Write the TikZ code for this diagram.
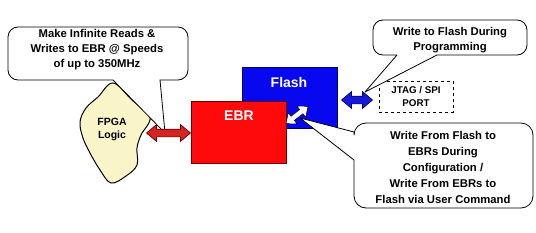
\documentclass[tikz,border=0pt]{standalone}
\usepackage{fontspec}
\setmainfont{Liberation Sans}
\usetikzlibrary{shapes.arrows,calc}
\definecolor{blobfill}{HTML}{FAF5C8}
\definecolor{ebrred}{HTML}{FF0A0A}
\definecolor{flashblue}{HTML}{0808F0}
\definecolor{arrred}{HTML}{D42424}
\definecolor{arrblue}{HTML}{1818D8}
\begin{document}
\begin{tikzpicture}[x=1pt,y=-1pt,
  lbl/.style={font=\bfseries\fontsize{11.3}{15}\selectfont, align=center, inner sep=0pt},
  boxlbl/.style={font=\bfseries\fontsize{14}{16}\selectfont, text=white, inner sep=0pt},
  callout/.style={draw=black, fill=white, line width=0.8pt, line join=round},
  fatarrow/.style={double arrow, draw, line width=0.7pt, inner xsep=0pt, inner ysep=3.5pt,
     text height=0pt, text depth=0pt, text width=0pt, double arrow head extend=4.5pt,
     double arrow tip angle=80},
  block/.style={draw, line width=0.9pt, inner sep=0pt, anchor=north west}
]
\useasboundingbox (0,0) rectangle (536,233);

% FPGA blob
\draw[fill=blobfill, line width=1pt] plot[smooth cycle, tension=0.6] coordinates
  {(113,83) (98,97) (86,108) (80,122) (83,138) (90,153) (100,170) (111,183)
   (126,176) (137,165) (137,148) (141,135) (150,117) (132,100)};
\node[lbl, font=\bfseries\fontsize{10.5}{13}\selectfont] (fpga) at (112,129) {FPGA\\Logic};

% left callout
\draw[callout] (113,80) -- (165,133) -- (160,80) [rounded corners=10pt] -- (188,80) -- (188,27)
   -- (8,27) -- (8,80) [sharp corners] -- cycle;
\node[lbl] (t1) at (97,50) {Make Infinite Reads \&\\Writes to EBR @ Speeds\\of up to 350MHz};

% Flash and EBR blocks
\node[block, fill=flashblue, draw=blue!40!black, minimum width=95pt, minimum height=61pt] (flash) at (242,67) {};
\node[boxlbl] (flashlbl) at (289,82) {Flash};
\node[block, fill=ebrred, draw=red!40!black, minimum width=95pt, minimum height=62pt] (ebr) at (191,101) {};
\node[boxlbl] (ebrlbl) at (239,116) {EBR};

% red arrow
\node[fatarrow, fill=arrred, draw=red!40!black, minimum height=44pt] (redarr) at (168.5,133) {};

% white arrow between EBR and Flash
\node[fatarrow, fill=white, draw=black, line width=0.5pt, inner ysep=2.4pt, double arrow head extend=4.5pt,
   minimum height=28pt, rotate=38] (whitearr) at (297,115) {};

% blue arrow
\node[fatarrow, fill=arrblue, draw=blue!40!black, minimum height=31pt] (bluearr) at (357,100) {};

% JTAG port
\node[draw, dashed, line width=0.6pt, minimum width=74pt, minimum height=31pt, inner sep=0pt] (jtag) at (416,96.5) {};
\node[lbl, font=\bfseries\fontsize{9.8}{13}\selectfont] (jtaglbl) at (416,96.5) {JTAG / SPI\\PORT};

% top right callout
\draw[callout] (397,55) -- (365,92) -- (437,55) [rounded corners=10pt] -- (527,55) -- (527,20)
   -- (373,20) -- (373,55) [sharp corners] -- cycle;
\node[lbl] (t2) at (450,40.5) {Write to Flash During\\Programming};

% bottom right callout
\draw[callout] (354,132) -- (300,118) -- (354,160) [rounded corners=12pt] -- (354,208) -- (533,208)
   -- (533,123) -- (354,123) [sharp corners] -- cycle;
\node[lbl, font=\bfseries\fontsize{11.3}{16}\selectfont] (t3) at (443,167)
  {Write From Flash to\\EBRs During\\Configuration /\\Write From EBRs to\\Flash via User Command};
\end{tikzpicture}
\end{document}
